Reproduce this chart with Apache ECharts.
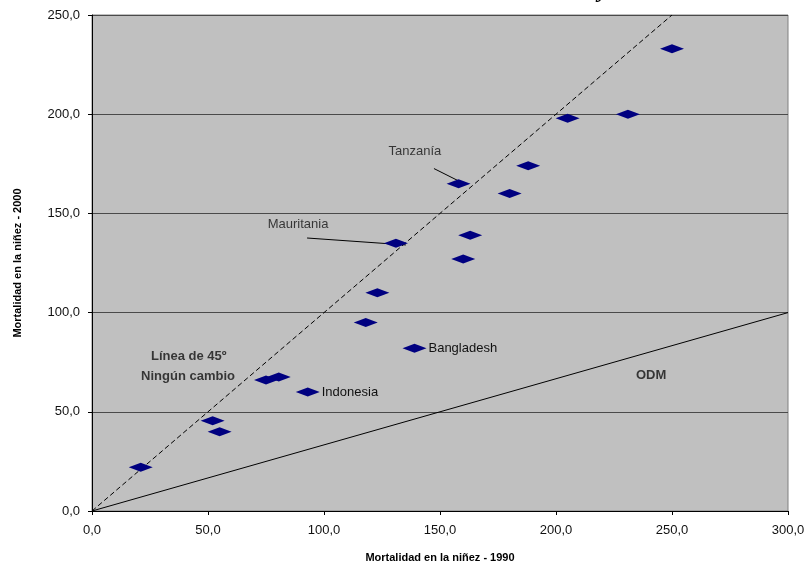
<!DOCTYPE html>
<html>
<head>
<meta charset="utf-8">
<script src="https://cdn.jsdelivr.net/npm/echarts@6/dist/echarts.min.js"></script>
<style>
  html, body { margin: 0; padding: 0; background: #fff; }
  #chart { width: 808px; height: 570px; }
</style>
</head>
<body>
<div id="chart"></div>
<script>
// mortalidad en la niñez, 1990 vs 2000
const x1990 = [250, 231, 205, 188, 158, 180, 163, 131, 160, 123, 118, 139, 75, 80.5, 93, 52, 55, 21];
const y2000 = [233, 200, 198, 174, 165, 160, 139, 135, 127, 110, 95, 82, 66, 67.5, 60, 45.5, 40, 22];
const pointNames = ['', '', '', '', 'Tanzanía', '', '', 'Mauritania', '', '', '', 'Bangladesh', '', '', 'Indonesia', '', '', ''];
const sideLabels = ['Bangladesh', 'Indonesia'];

// referencia: línea de 45º y meta ODM
const line45 = [[0, 0], [250, 250]];
const lineODM = [[0, 0], [300, 100]];

// notas con línea guía
const notes = [
  { text: 'Tanzanía', at: [139.2, 181], from: [147.4, 172.6], to: [159.5, 165.5] },
  { text: 'Mauritania', at: [88.8, 144.2], from: [92.7, 137.6], to: [135.3, 134.1] }
];
const boldNotes = [
  { text: 'Línea de 45º', at: [41.7, 77.8] },
  { text: 'Ningún cambio', at: [41.4, 67.7] },
  { text: 'ODM', at: [241, 68.5] }
];

const xTicks = { min: 0, max: 300, interval: 50 };
const yTicks = { min: 0, max: 250, interval: 50 };

const chart = echarts.init(document.getElementById('chart'));
const font = 'Liberation Sans, Arial, sans-serif';
const fmt = v => v.toFixed(1).replace('.', ',');

const points = x1990.map((x, i) => ({ value: [x, y2000[i]], name: pointNames[i] }));

const option = {
  animation: false,
  graphic: [{
    type: 'text', left: 598, top: -21,
    style: { text: 'y', font: 'bold italic 24px "Liberation Serif", serif', fill: '#000' }
  }],
  grid: {
    left: 92, right: 20, top: 15, bottom: 59,
    show: true, backgroundColor: '#c0c0c0', borderColor: '#808080', borderWidth: 1
  },
  xAxis: {
    type: 'value', min: xTicks.min, max: xTicks.max, interval: xTicks.interval,
    name: 'Mortalidad en la niñez - 1990', nameLocation: 'middle', nameGap: 41,
    nameTextStyle: { fontFamily: font, fontWeight: 'bold', fontSize: 11, color: '#000' },
    axisLine: { lineStyle: { color: '#000', width: 1 } },
    axisTick: { inside: false, length: 4, lineStyle: { color: '#000' } },
    axisLabel: { formatter: fmt, fontFamily: font, fontSize: 13, color: '#111', margin: 13 },
    splitLine: { show: false }
  },
  yAxis: {
    type: 'value', min: yTicks.min, max: yTicks.max, interval: yTicks.interval,
    offset: 8,
    name: 'Mortalidad en la niñez - 2000', nameLocation: 'middle', nameGap: 61,
    nameTextStyle: { fontFamily: font, fontWeight: 'bold', fontSize: 11, color: '#000' },
    axisLine: { show: true, lineStyle: { color: '#000', width: 1 } },
    axisTick: { show: true, length: 4, lineStyle: { color: '#000' } },
    axisLabel: { formatter: fmt, fontFamily: font, fontSize: 13, color: '#111', margin: 4 },
    splitLine: { show: true, lineStyle: { color: '#4a4a4a', width: 1 } }
  },
  series: [
    {
      type: 'line', data: line45, symbol: 'none', silent: true,
      lineStyle: { color: '#000', width: 1, type: [5, 3] }, z: 2
    },
    {
      type: 'line', data: lineODM, symbol: 'none', silent: true,
      lineStyle: { color: '#000', width: 1 }, z: 2
    },
    ...notes.map(n => ({
      type: 'line', data: [n.from, n.to], symbol: 'none', silent: true,
      lineStyle: { color: '#000', width: 1 }, z: 2
    })),
    {
      type: 'scatter', data: points, symbol: 'diamond', symbolSize: [24, 9],
      itemStyle: { color: '#000080', opacity: 1 }, z: 3,
      label: {
        show: true, position: 'right', distance: 2,
        formatter: p => sideLabels.includes(p.name) ? p.name : '',
        fontFamily: font, fontSize: 13, color: '#111'
      }
    },
    {
      type: 'scatter', symbolSize: 0, silent: true, z: 4,
      data: notes.map(n => ({ value: n.at, name: n.text })),
      label: { show: true, position: 'inside', formatter: '{b}', fontFamily: font, fontSize: 13, color: '#111' }
    },
    {
      type: 'scatter', symbolSize: 0, silent: true, z: 4,
      data: boldNotes.map(n => ({ value: n.at, name: n.text })),
      label: { show: true, position: 'inside', formatter: '{b}', fontFamily: font, fontSize: 13, fontWeight: 'bold', color: '#111' }
    }
  ]
};
chart.setOption(option);
</script>
</body>
</html>
